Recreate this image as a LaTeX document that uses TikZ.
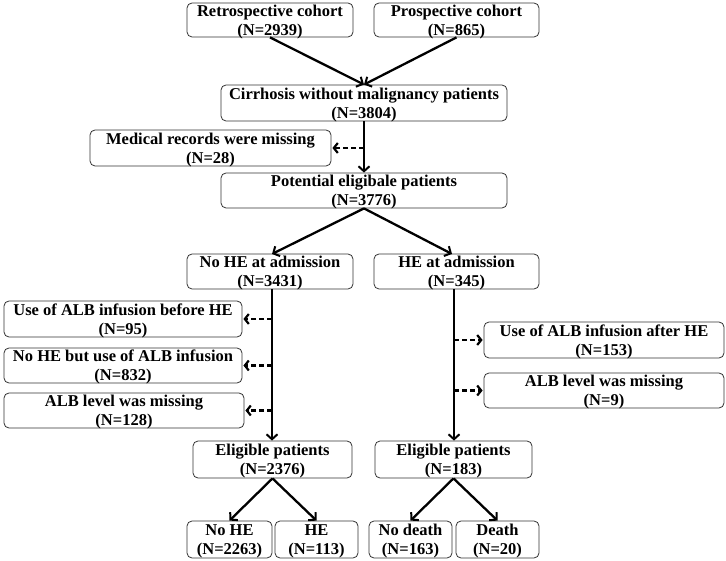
\documentclass[tikz,border=0pt]{standalone}
\usepackage{fontspec}
\setmainfont{Liberation Serif}
\usetikzlibrary{arrows.meta}
\begin{document}
\begin{tikzpicture}[x=1pt,y=1pt,
  box/.style={draw=black!80, line width=0.8pt, rounded corners=5pt, align=center, inner sep=0pt,
    text height=30.5pt, text depth=0pt,
    font=\fontsize{16.5}{19}\selectfont\bfseries},
  solidarrow/.style={line width=2.3pt, -{Straight Barb[length=5pt,width=11pt,line width=2pt]}},
  dasharrow/.style={line width=2.6pt, dash pattern=on 5pt off 3pt, -{Straight Barb[length=4pt,width=10pt,line width=2.2pt]}, shorten >=1pt}]
\useasboundingbox (0,0) rectangle (726,-561);
\node[box, minimum width=166, minimum height=34] (retro) at (270,-20) {Retrospective cohort\\(N=2939)};
\node[box, minimum width=165, minimum height=34] (prosp) at (456.5,-20) {Prospective cohort\\(N=865)};
\node[box, minimum width=286, minimum height=36] (cirr) at (364,-103) {Cirrhosis without malignancy patients\\(N=3804)};
\node[box, minimum width=241, minimum height=36] (med) at (210.5,-148) {Medical records were missing\\(N=28)};
\node[box, minimum width=286, minimum height=35] (pot) at (364,-190.5) {Potential eligibale patients\\(N=3776)};
\node[box, minimum width=166, minimum height=35] (noHEa) at (270,-271.5) {No HE at admission\\(N=3431)};
\node[box, minimum width=165, minimum height=35] (HEa) at (456.5,-271.5) {HE at admission\\(N=345)};
\node[box, minimum width=238, minimum height=36] (useB) at (123,-319) {Use of ALB infusion before HE\\(N=95)};
\node[box, minimum width=238, minimum height=35] (noHEbut) at (123,-365.5) {No HE but use of ALB infusion\\(N=832)};
\node[box, minimum width=240, minimum height=35] (albL) at (124,-410.5) {ALB level was missing\\(N=128)};
\node[box, minimum width=240, minimum height=36] (useA) at (604,-340) {Use of ALB infusion after HE\\(N=153)};
\node[box, minimum width=240, minimum height=35] (albR) at (604,-390.5) {ALB level was missing\\(N=9)};
\node[box, minimum width=159, minimum height=37] (eligL) at (272.5,-459.5) {Eligible patients\\(N=2376)};
\node[box, minimum width=157, minimum height=37] (eligR) at (453.5,-459.5) {Eligible patients\\(N=183)};
\node[box, minimum width=85, minimum height=37] (noHE) at (229.5,-539.5) {No HE\\(N=2263)};
\node[box, minimum width=83, minimum height=37] (HE) at (316.5,-539.5) {HE\\(N=113)};
\node[box, minimum width=83, minimum height=37] (noDeath) at (410.5,-539.5) {No death\\(N=163)};
\node[box, minimum width=83, minimum height=37] (death) at (497.5,-539.5) {Death\\(N=20)};
% top
\draw[solidarrow] (retro.south) -- (cirr.north);
\draw[solidarrow] (prosp.south) -- (cirr.north);
\draw[solidarrow] (cirr.south) -- (pot.north);
\draw[dasharrow] (cirr.south |- med.east) -- (med.east);
% split
\coordinate (tL) at (272,-254);
\coordinate (tR) at (452,-254);
\draw[solidarrow] (pot.south) -- (tL);
\draw[solidarrow] (pot.south) -- (tR);
% left column
\coordinate (vL) at (272,-289);
\draw[solidarrow] (vL) -- (vL |- eligL.north);
\draw[dasharrow] (vL |- useB.east) -- (useB.east);
\draw[dasharrow] (vL |- noHEbut.east) -- (noHEbut.east);
\draw[dasharrow] (vL |- albL.east) -- (albL.east);
% right column
\coordinate (vR) at (454,-289);
\draw[solidarrow] (vR) -- (vR |- eligR.north);
\draw[dasharrow] (vR |- useA.west) -- (useA.west);
\draw[dasharrow] (vR |- albR.west) -- (albR.west);
% bottom
\draw[solidarrow] (eligL.south) -- (noHE.north);
\draw[solidarrow] (eligL.south) -- (HE.north);
\draw[solidarrow] (eligR.south) -- (noDeath.north);
\draw[solidarrow] (eligR.south) -- (death.north);
\end{tikzpicture}
\end{document}
